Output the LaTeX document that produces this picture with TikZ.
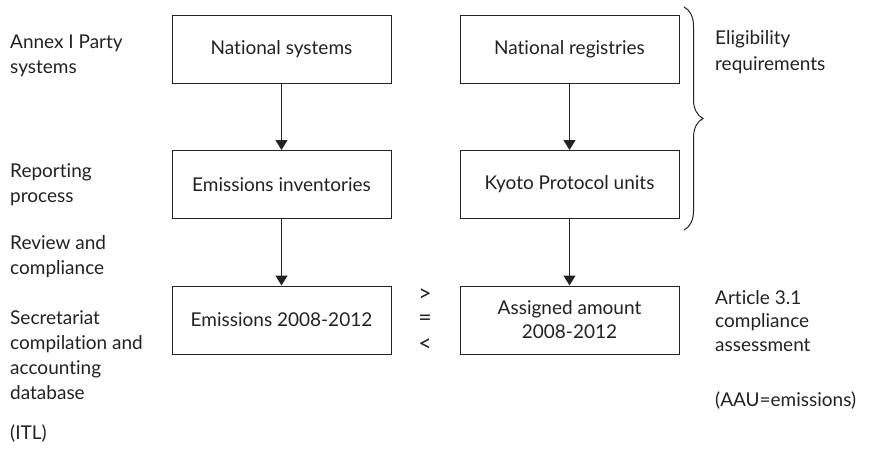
\documentclass[tikz,border=0pt]{standalone}
\usepackage{fontspec}
\setmainfont{Lato}[Ligatures=NoCommon]
\usetikzlibrary{arrows.meta,decorations.pathreplacing}
\definecolor{ink}{HTML}{222222}
\begin{document}
\begin{tikzpicture}[x=1pt,y=-1pt,
  every node/.style={text=ink,font=\fontsize{19}{25}\selectfont},
  stagebox/.style={draw=ink,line width=1pt,minimum width=219pt,minimum height=68pt,
    inner sep=0pt,align=center},
  sidelabel/.style={anchor=base west,align=left,inner sep=0pt},
  flow/.style={draw=ink,line width=1pt,-{Triangle[width=12pt,length=10pt]}},
  relsign/.style={inner sep=0pt,font=\fontsize{23}{25}\selectfont}]
\useasboundingbox (0,0) rectangle (871,455);
\fill[white] (0,0) rectangle (871,455);

% boxes
\node[stagebox] (ns) at (281.5,49.5) {National systems};
\node[stagebox] (nr) at (569.5,49.5) {National registries};
\node[stagebox] (ei) at (281.5,184.5) {Emissions inventories};
\node[stagebox] (kp) at (569.5,184.5) {Kyoto Protocol units};
\node[stagebox] (em) at (281.5,320) {Emissions 2008-2012};
\node[stagebox,font=\fontsize{19}{24}\selectfont] (aa) at (569.5,320) {Assigned amount\\2008-2012};

% arrows
\draw[flow] (ns) -- (ei);
\draw[flow] (ei) -- (em);
\draw[flow] (nr) -- (kp);
\draw[flow] (kp) -- (aa);

% comparison signs
\node[relsign] (gt) at (425,295) {>};
\node[relsign] (eq) at (425,320) {=};
\node[relsign] (lt) at (425,345) {<};

% brace around the eligibility items
\coordinate (bt) at (684,7);
\coordinate (bb) at (684,230);
\draw[ink,line width=1pt,decorate,decoration={brace,amplitude=19pt,aspect=0.5}] (bt) -- (bb);

% left column labels (anchored on the baseline of the last line)
\node[sidelabel] (l1) at (10,73) {Annex I Party\\systems};
\node[sidelabel] (l2) at (10,202) {Reporting\\process};
\node[sidelabel] (l3) at (10,274) {Review and\\compliance};
\node[sidelabel] (l4) at (10,399) {Secretariat\\compilation and\\accounting\\database};
\node[sidelabel] (l5) at (10,439) {(ITL)};

% right column labels
\node[sidelabel] (r1) at (715,70) {Eligibility\\requirements};
\node[sidelabel,font=\fontsize{19}{23.5}\selectfont] (r2) at (715,351) {Article 3.1\\compliance\\assessment};
\node[sidelabel] (r3) at (715,406) {(AAU=emissions)};
\end{tikzpicture}
\end{document}
